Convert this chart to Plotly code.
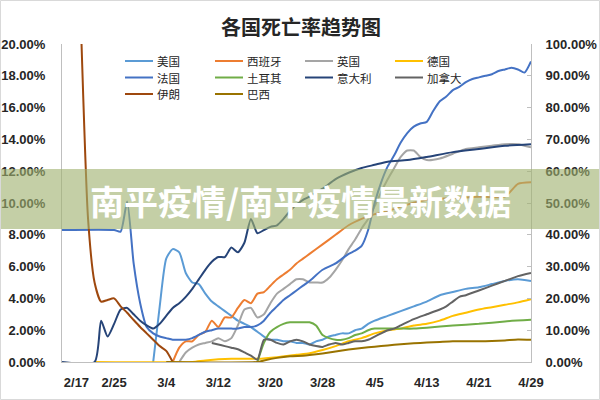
import pandas as pd
import plotly.graph_objects as go

# ---------------- data ----------------
TITLE = "各国死亡率趋势图"
BANNER = "南平疫情/南平疫情最新数据"
START_DATE = "2020-02-17"          # day 0
tick_days = [0, 8, 16, 24, 32, 40, 48, 56, 64, 72]
tick_labels = ["2/17", "2/25", "3/4", "3/12", "3/20", "3/28", "4/5", "4/13", "4/21", "4/29"]
left_ticks = [0, 2, 4, 6, 8, 10, 12, 14, 16, 18, 20]
right_ticks = [0, 10, 20, 30, 40, 50, 60, 70, 80, 90, 100]

# death rate (%) ; days since 2/17
us_day = list(range(14, 49)) + [50, 52, 54, 56, 58, 60, 62, 64, 66, 68, 70, 72]
us_val = [0, 3.5, 6.5, 7.1, 6.9, 5.6, 5.0, 4.9, 4.3, 3.8, 3.5, 3.2, 2.9, 2.6, 2.4, 2.2, 1.9, 1.6, 1.4, 1.4,
          1.3, 1.3, 1.2, 1.2, 1.1, 1.3, 1.4, 1.6, 1.7, 1.8, 1.8, 2.0, 2.1, 2.4, 2.6,
          2.9, 3.2, 3.5, 3.8, 4.2, 4.4, 4.6, 4.7, 4.9, 5.1, 5.2, 5.1]

es_day = list(range(17, 39)) + [40, 42, 44, 46, 48, 50, 53, 56, 60, 64, 68, 70, 72]
es_val = [0, 0.9, 1.3, 1.3, 1.7, 1.9, 2.6, 2.2, 2.8, 2.8, 3.4, 3.9, 3.7, 4.3, 4.4, 4.8, 5.2, 5.5, 5.8, 6.2,
          6.5, 6.8, 7.4, 8.0, 8.6, 9.0, 9.3, 9.5, 9.9, 10.2, 10.3, 10.4, 10.4, 11.2, 11.3]

uk_day = list(range(18, 57)) + [58, 60, 62, 64, 66, 68, 70, 72]
uk_val = [0, 0.6, 0.9, 1.1, 1.2, 1.3, 1.5, 1.3, 1.5, 2.3, 3.3, 3.4, 2.8, 3.0, 3.7, 4.3, 4.6, 4.9, 5.2, 5.2,
          5.0, 5.0, 5.0, 5.3, 5.8, 6.4, 7.1, 7.7, 8.4, 9.0, 9.8, 10.7, 11.5, 12.2, 12.9, 13.3, 13.3, 12.9, 12.7,
          12.8, 13.1, 13.4, 13.5, 13.6, 13.7, 13.7, 13.5]

de_day = [5, 20, 22, 26, 30, 33, 36, 38, 40, 42, 44, 46, 48, 50, 52, 54, 56, 58, 60, 62, 64, 66, 68, 70, 72]
de_val = [0, 0, 0.1, 0.2, 0.2, 0.3, 0.45, 0.55, 0.75, 1.0, 1.3, 1.5, 1.8, 2.0, 2.1, 2.3, 2.4, 2.6, 2.9, 3.1,
          3.3, 3.45, 3.6, 3.75, 3.95]

fr_day = [0, 8, 9, 10] + list(range(11, 39)) + [40, 42] + list(range(43, 73))
fr_val = [8.3, 8.3, 8.2, 10.1,
          6.2, 3.7, 2.2, 1.8, 1.6, 1.5, 1.4, 1.4, 1.4, 1.5, 1.7, 1.9, 2.0, 2.1, 2.1, 2.1, 2.1, 2.2, 2.2, 2.3,
          2.6, 3.1, 3.5, 3.9, 4.2, 4.5, 4.8, 5.1,
          5.8, 6.2,
          6.5, 6.8, 7.0, 7.3, 8.3, 10.0, 11.3, 12.3, 13.0, 13.8, 14.4, 14.8, 15.0, 15.1, 15.8, 16.4, 16.7, 17.1,
          17.3, 17.6, 17.8, 17.9, 18.0, 18.1, 18.3, 18.4, 18.5, 18.4, 18.2, 18.9]

tr_day = list(range(30, 49)) + [50, 52, 54, 56, 60, 64, 68, 72]
tr_val = [0, 1.2, 1.9, 2.2, 2.4, 2.5, 2.5, 2.5, 2.5, 2.3, 1.7, 1.5, 1.4, 1.4, 1.5, 1.7, 1.8, 2.0, 2.1,
          2.1, 2.1, 2.1, 2.15, 2.3, 2.4, 2.55, 2.65]

it_day = [0, 5] + list(range(6, 39)) + [40, 42, 44, 46, 48, 50, 53, 56, 60, 64, 68, 72]
it_val = [0, 0,
          2.6, 1.6, 2.4, 3.3, 3.4, 3.0, 2.6, 2.3, 2.1, 2.4, 2.9, 3.4, 3.7, 4.1, 4.6, 5.2, 5.8, 6.3, 6.6, 6.6,
          7.2, 6.9, 7.5, 9.0, 8.1, 8.3, 8.5, 8.6, 9.0, 9.5, 9.9, 10.2, 10.4,
          10.9, 11.5, 11.9, 12.2, 12.4, 12.6, 12.7, 12.9, 13.2, 13.4, 13.6, 13.7]

ca_day = list(range(23, 53)) + [54, 56, 58, 59, 60, 61, 62, 64, 66, 68, 70, 72]
ca_val = [1.2, 1.1, 1.0, 0.9, 0.8, 0.6, 0.4, 0.15, 1.4, 1.4, 1.2, 1.1, 1.3, 1.4, 1.3, 1.1, 1.0, 0.95, 1.1, 1.2,
          1.1, 1.2, 1.3, 1.3, 1.4, 1.6, 1.8, 2.0, 2.1, 2.3,
          2.7, 3.0, 3.3, 3.5, 3.8, 4.1, 4.2, 4.5, 4.8, 5.1, 5.4, 5.6]

# right axis series
ir_day = list(range(3, 18))
ir_val = [100, 45, 25, 19, 19.5, 20, 17.5, 15.5, 13.2, 11, 9, 7, 5, 3.5, 0]

br_day = [16, 30, 31, 33, 35, 37, 38, 40, 42, 44, 46, 48, 50, 52, 54, 56, 58, 60, 62, 64, 66, 68, 70, 72]
br_val = [0, 0, 0.5, 1.3, 1.8, 2.0, 2.2, 2.7, 3.3, 3.9, 4.4, 4.8, 5.2, 5.6, 5.9, 6.1, 6.3, 6.5, 6.5, 6.5,
          6.6, 6.8, 7.1, 7.0]

series = [
    ("美国", "#5B9BD5", "y", us_day, us_val),
    ("西班牙", "#ED7D31", "y", es_day, es_val),
    ("英国", "#A5A5A5", "y", uk_day, uk_val),
    ("德国", "#FFC000", "y", de_day, de_val),
    ("法国", "#4472C4", "y", fr_day, fr_val),
    ("土耳其", "#70AD47", "y", tr_day, tr_val),
    ("意大利", "#264478", "y", it_day, it_val),
    ("加拿大", "#636363", "y", ca_day, ca_val),
    ("伊朗", "#9E480E", "y2", ir_day, ir_val),
    ("巴西", "#997300", "y2", br_day, br_val),
]

# ---------------- layout helpers ----------------
W, H = 600, 400
PL, PR, PT, PB = 62, 531, 44, 362


def px2x(px):
    return (px - PL) / (PR - PL)


def px2y(py):
    return (PB - py) / (PB - PT)


start = pd.Timestamp(START_DATE)


def to_dates(days):
    return [start + pd.Timedelta(days=d) for d in days]


CJK = "Noto Sans CJK SC"
NUM = "Liberation Sans"

fig = go.Figure()
for name, color, ax, days, vals in series:
    fig.add_trace(go.Scatter(
        x=to_dates(days), y=vals, name=name, yaxis=ax, mode="lines",
        line=dict(color=color, width=2, shape="spline", smoothing=0.6),
        showlegend=False, hoverinfo="skip"))

tick_text = [("\u00a0" * 8 + t) if i == 0 else t for i, t in enumerate(tick_labels)]

fig.update_layout(
    width=W, height=H,
    margin=dict(l=PL, r=W - PR, t=PT, b=H - PB, pad=0, autoexpand=False),
    paper_bgcolor="white", plot_bgcolor="white",
    showlegend=False,
    xaxis=dict(
        type="date", range=[start, start + pd.Timedelta(days=72)], automargin=False,
        tickvals=to_dates(tick_days), ticktext=tick_text,
        showgrid=False, zeroline=False, showline=True, linecolor="#BFBFBF", linewidth=1,
        ticks="", ticklabelstandoff=8,
        tickfont=dict(family=NUM, size=13, color="#262626", weight="bold"),
    ),
    yaxis=dict(
        range=[0, 20], tickvals=left_ticks, ticktext=[f"{v:.2f}%" for v in left_ticks], automargin=False,
        showgrid=False, zeroline=False, showline=True, linecolor="#BFBFBF", linewidth=1,
        ticks="", ticklabelstandoff=13,
        tickfont=dict(family=NUM, size=13, color="#262626", weight="bold"),
    ),
    yaxis2=dict(
        range=[0, 100], tickvals=right_ticks, ticktext=[f"{v:.2f}%" for v in right_ticks], automargin=False,
        overlaying="y", side="right",
        showgrid=False, zeroline=False, showline=True, linecolor="#BFBFBF", linewidth=1,
        ticks="inside", ticklen=4, tickcolor="#BFBFBF", ticklabelstandoff=11,
        tickfont=dict(family=NUM, size=13, color="#262626", weight="bold"),
    ),
)

shapes = []
annotations = []

# title
annotations.append(dict(x=px2x(301), y=px2y(27), xref="paper", yref="paper", text=TITLE,
                        showarrow=False, xanchor="center", yanchor="middle",
                        font=dict(family=CJK, size=20, color="#262626", weight="bold")))

# manual legend (4 columns)
col_x = [125, 215, 305, 395]
row_y = [61, 77.5, 94]
for i, (name, color, ax, days, vals) in enumerate(series):
    cx = col_x[i % 4]
    ry = row_y[i // 4]
    shapes.append(dict(type="line", xref="paper", yref="paper",
                       x0=px2x(cx), x1=px2x(cx + 28), y0=px2y(ry), y1=px2y(ry),
                       line=dict(color=color, width=2)))
    annotations.append(dict(x=px2x(cx + 30), y=px2y(ry), xref="paper", yref="paper", text=name,
                            showarrow=False, xanchor="left", yanchor="middle",
                            font=dict(family=CJK, size=11.5, color="#262626")))

# banner overlay
shapes.append(dict(type="rect", xref="paper", yref="paper", layer="above",
                   x0=px2x(0), x1=px2x(600), y0=px2y(229), y1=px2y(169),
                   fillcolor="rgba(160,178,112,0.62)", line=dict(width=0)))
annotations.append(dict(x=px2x(300), y=px2y(200), xref="paper", yref="paper", text=BANNER,
                        showarrow=False, xanchor="center", yanchor="middle",
                        font=dict(family=CJK, size=34, color="white", weight="bold")))

# frame
shapes.append(dict(type="rect", xref="paper", yref="paper", layer="above",
                   x0=px2x(0.5), x1=px2x(599.5), y0=px2y(399.5), y1=px2y(0.5),
                   line=dict(color="#D9D9D9", width=1)))

fig.update_layout(shapes=shapes, annotations=annotations)
fig.write_html("out.html")
